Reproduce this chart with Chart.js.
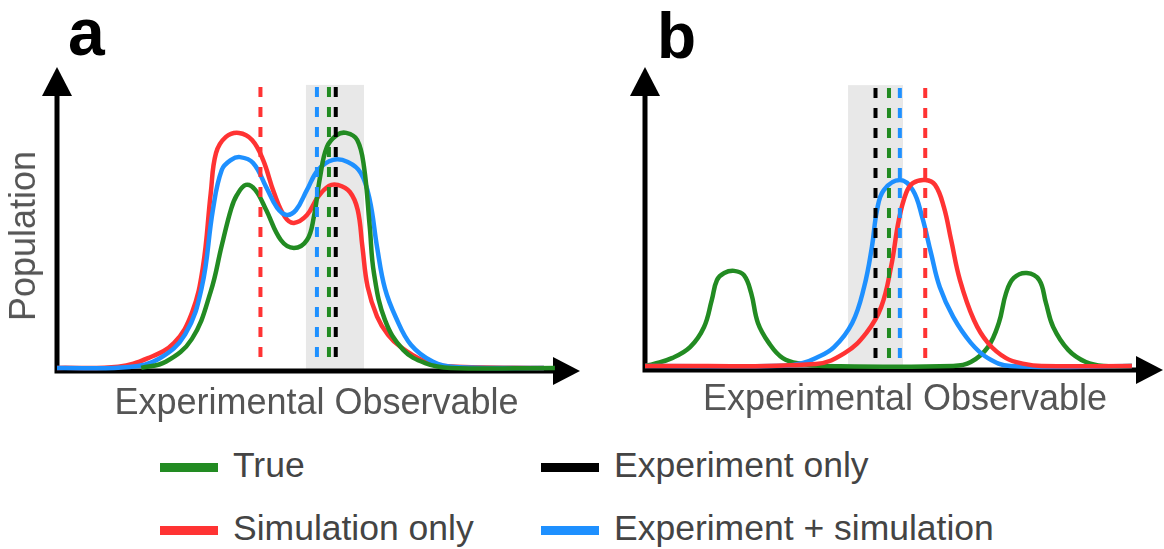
<!DOCTYPE html>
<html>
<head>
<meta charset="utf-8">
<script src="https://cdn.jsdelivr.net/npm/chart.js@4.4.1/dist/chart.umd.min.js"></script>
<style>
  body { margin: 0; background: #fff; }
  #wrap { position: relative; width: 1164px; height: 549px; overflow: hidden; font-family: "Liberation Sans", Arial, Helvetica, sans-serif; }
  canvas { position: absolute; top: 0; }
  .txt { position: absolute; line-height: 1; white-space: nowrap; }
  .panel { font-weight: bold; color: #000; }
  .axis { font-size: 36px; color: #555; }
  .leg { font-size: 35.5px; color: #444; }
  .swatch { position: absolute; height: 9px; }
</style>
</head>
<body>
<div id="wrap">
  <canvas id="chartA" width="600" height="400" style="left:0px"></canvas>
  <canvas id="chartB" width="564" height="400" style="left:600px"></canvas>
  <div class="txt panel" style="left:68px; top:-1px; font-size:66px;">a</div>
  <div class="txt panel" style="left:657px; top:4px; font-size:64px;">b</div>
  <div class="txt axis" style="left:22.5px; top:236px; transform:translate(-50%,-50%) rotate(-90deg);">Population</div>
  <div class="txt axis" style="left:316.5px; top:383.5px; transform:translateX(-50%);">Experimental Observable</div>
  <div class="txt axis" style="left:905px; top:379.5px; transform:translateX(-50%);">Experimental Observable</div>
  <div id="legend"></div>
</div>
<script>
// panel a curves (x: observable 0-100, y: population 0-100)
var redAx = [0, 11.7, 17.4, 22.4, 25.8, 27.9, 29.4, 30.4, 32.3, 34.8, 37.3, 39.4, 41.5, 43.6, 45.3, 47.8, 49.9, 52.0, 53.7, 56.0, 57.5, 58.4, 59.4, 61.2, 63.3, 65.6, 69.8, 74.0, 93.1];
var redAy = [1.0, 1.4, 4.2, 9.2, 19.0, 34.0, 58.2, 71.2, 76.5, 77.8, 75.5, 69.0, 58.2, 50.3, 48.4, 51.0, 56.9, 60.5, 60.8, 58.5, 52.6, 40.5, 27.5, 17.8, 11.8, 8.0, 3.6, 1.6, 1.0];
var blueAx = [0, 13.8, 19.5, 24.5, 27.7, 29.8, 31.5, 33.3, 35.0, 37.5, 40.0, 42.1, 43.9, 45.7, 47.8, 49.9, 52.8, 55.6, 58.1, 59.8, 61.2, 62.7, 64.8, 67.7, 71.9, 76.1, 93.1];
var blueAy = [1.0, 1.3, 4.0, 12.0, 27.5, 52.6, 65.7, 69.0, 69.9, 68.0, 60.1, 53.3, 51.0, 52.6, 59.2, 65.7, 69.0, 68.3, 64.7, 55.9, 40.5, 27.0, 17.5, 8.5, 3.0, 1.3, 1.0];
var greenAx = [16.1, 20.8, 25.8, 29.4, 31.5, 33.3, 34.4, 36.1, 37.9, 40.0, 42.8, 45.3, 47.8, 49.1, 50.3, 51.6, 53.5, 55.3, 57.4, 58.7, 59.8, 60.6, 62.7, 66.2, 70.4, 75.3, 95.2];
var greenAy = [1.0, 3.0, 10.5, 26.0, 41.0, 53.0, 57.5, 60.8, 59.2, 52.6, 42.8, 40.2, 42.8, 50.3, 63.4, 73.2, 77.1, 77.8, 75.5, 66.7, 47.1, 32.0, 16.7, 6.9, 2.6, 1.0, 1.0];

// panel b curves
var redBx = [0, 33.0, 38.6, 42.7, 45.6, 47.5, 49.0, 50.4, 51.7, 54.1, 56.0, 57.7, 59.1, 60.8, 63.5, 66.2, 69.7, 73.2, 76.6, 94.0];
var redBy = [1.3, 2.0, 5.6, 12.1, 20.7, 33.8, 49.2, 58.0, 61.3, 62.3, 60.7, 53.4, 42.6, 29.5, 16.4, 8.9, 3.9, 2.0, 1.3, 1.3];
var blueBx = [0, 27.0, 30.5, 33.0, 36.5, 40.0, 42.3, 43.8, 44.8, 46.1, 49.2, 51.7, 53.5, 55.2, 56.9, 59.5, 62.9, 66.2, 70.5, 94.0];
var blueBy = [1.3, 1.4, 2.3, 3.9, 7.5, 15.4, 27.2, 40.3, 52.5, 59.0, 62.3, 59.0, 50.2, 38.4, 27.2, 17.4, 8.9, 3.9, 1.3, 1.3];
var greenBx = [0, 1.7, 5.2, 8.7, 11.4, 12.9, 13.9, 15.3, 17.2, 19.1, 20.5, 21.8, 23.9, 26.6, 30.1, 34.4, 59.5, 62.9, 66.2, 68.3, 69.7, 71.2, 73.7, 76.1, 77.4, 78.8, 81.7, 85.1, 88.6, 94.0];
var greenBy = [1.3, 2.0, 3.9, 7.5, 14.1, 23.0, 29.5, 31.8, 32.5, 31.1, 25.2, 15.4, 8.9, 3.9, 2.0, 1.3, 1.3, 2.6, 7.5, 15.4, 25.2, 30.2, 31.8, 29.5, 22.0, 14.1, 6.6, 2.6, 1.3, 1.3];

// mean markers: [true, simulation only, experiment only, experiment + simulation]
var meansA = [52.0, 38.9, 53.3, 49.7];
var meansB = [47.1, 54.1, 44.5, 49.2];
var meanLineA = [92.8, 2.6];
var meanLineB = [92.5, 2.3];
// grey uncertainty band [from, to, top]
var bandA = [47.6, 58.7, 93.5];
var bandB = [39.2, 49.8, 93.4];

var legendLabels = ["True", "Simulation only", "Experiment only", "Experiment + simulation"];
var colors = ["#228b22", "#ff3333", "#000000", "#1e90ff"];

function toPoints(xs, ys) {
  return xs.map(function (x, i) { return { x: x, y: ys[i] }; });
}

var axesPlugin = {
  id: "axesArrows",
  beforeDatasetsDraw: function (chart, args, opts) {
    var ctx = chart.ctx, area = chart.chartArea;
    var sx = chart.scales.x, sy = chart.scales.y;
    var x0 = sx.getPixelForValue(0), y0 = sy.getPixelForValue(0);
    ctx.save();
    // shaded band
    var b0 = sx.getPixelForValue(opts.band[0]), b1 = sx.getPixelForValue(opts.band[1]);
    var bt = sy.getPixelForValue(opts.band[2]);
    ctx.fillStyle = "#e8e8e8";
    ctx.fillRect(b0, bt, b1 - b0, y0 - bt);
    // axes with arrow heads
    ctx.strokeStyle = "#000";
    ctx.fillStyle = "#000";
    ctx.lineWidth = 5;
    ctx.beginPath();
    ctx.moveTo(x0, y0 + 2.5);
    ctx.lineTo(x0, area.top + 25);
    ctx.moveTo(x0 - 2.5, y0);
    ctx.lineTo(area.right - 22, y0);
    ctx.stroke();
    ctx.beginPath();
    ctx.moveTo(x0, area.top + 2);
    ctx.lineTo(x0 - 15, area.top + 31);
    ctx.lineTo(x0 + 15, area.top + 31);
    ctx.closePath();
    ctx.fill();
    ctx.beginPath();
    ctx.moveTo(area.right, y0);
    ctx.lineTo(area.right - 27, y0 - 14);
    ctx.lineTo(area.right - 27, y0 + 14);
    ctx.closePath();
    ctx.fill();
    ctx.restore();
  }
};

function curve(xs, ys, color, order) {
  return {
    data: toPoints(xs, ys),
    borderColor: color,
    borderWidth: 4.5,
    pointRadius: 0,
    tension: 0.4,
    fill: false,
    order: order
  };
}

function meanLine(x, span, color) {
  return {
    data: [{ x: x, y: span[0] }, { x: x, y: span[1] }],
    borderColor: color,
    borderWidth: 4,
    borderDash: [10, 10],
    borderCapStyle: "butt",
    pointRadius: 0,
    tension: 0,
    order: 0
  };
}

function makePanel(id, curves, means, span, band, padding) {
  var ctx = document.getElementById(id).getContext("2d");
  var datasets = curves.slice();
  means.forEach(function (m, i) {
    datasets.push(meanLine(m, span, colors[i]));
  });
  return new Chart(ctx, {
    type: "line",
    data: { datasets: datasets },
    options: {
      responsive: false,
      animation: false,
      devicePixelRatio: 1,
      events: [],
      layout: { padding: padding },
      scales: {
        x: { type: "linear", min: 0, max: 100, display: false },
        y: { type: "linear", min: 0, max: 100, display: false }
      },
      plugins: {
        legend: { display: false },
        tooltip: { enabled: false },
        axesArrows: { band: band }
      }
    },
    plugins: [axesPlugin]
  });
}

// panel a: green on top, red at the bottom
makePanel("chartA", [
  curve(greenAx, greenAy, colors[0], 1),
  curve(blueAx, blueAy, colors[3], 2),
  curve(redAx, redAy, colors[1], 3)
], meansA, meanLineA, bandA, { left: 57, top: 65, right: 20, bottom: 29 });

// panel b: red on top, green at the bottom
makePanel("chartB", [
  curve(redBx, redBy, colors[1], 1),
  curve(blueBx, blueBy, colors[3], 2),
  curve(greenBx, greenBy, colors[0], 3)
], meansB, meanLineB, bandB, { left: 45, top: 65, right: 1, bottom: 30 });

// legend, two columns
var legendPos = [[160, 467], [160, 530], [541, 467], [541, 530]];
var legend = document.getElementById("legend");
legendLabels.forEach(function (label, i) {
  var sw = document.createElement("div");
  sw.className = "swatch";
  sw.style.left = legendPos[i][0] + "px";
  sw.style.top = (legendPos[i][1] - 4.5) + "px";
  sw.style.width = "58px";
  sw.style.background = colors[i];
  legend.appendChild(sw);
  var t = document.createElement("div");
  t.className = "txt leg";
  t.style.left = (legendPos[i][0] + 73) + "px";
  t.style.top = (legendPos[i][1] + 11 - 30) + "px";
  t.textContent = label;
  legend.appendChild(t);
});
</script>
</body>
</html>
